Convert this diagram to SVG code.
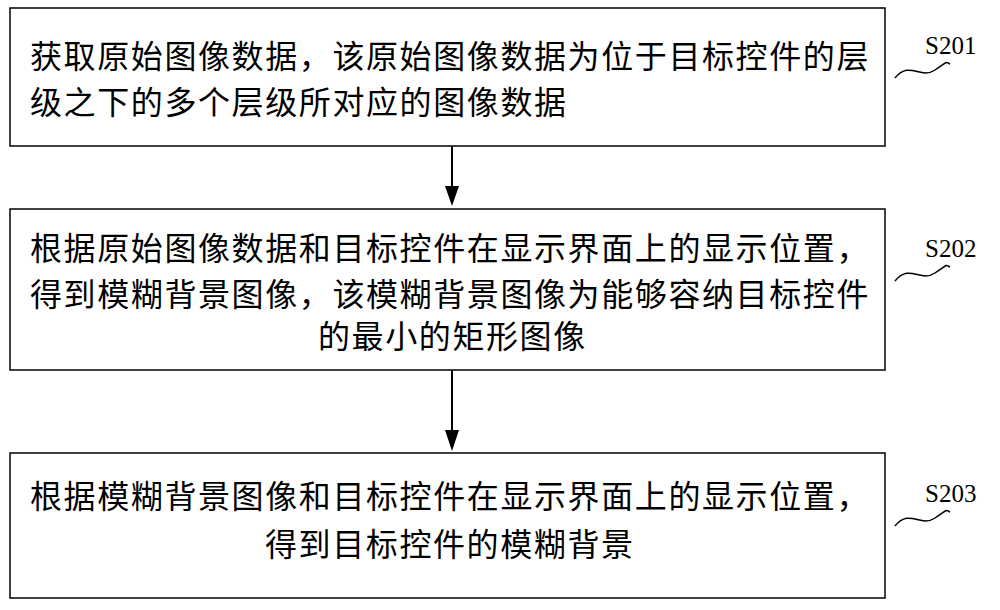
<svg xmlns="http://www.w3.org/2000/svg" width="1000" height="610" viewBox="0 0 1000 610">
<defs>
<style>
.box{fill:#fff;stroke:#000;stroke-width:1.5}
.t{font-family:"Noto Sans CJK SC",sans-serif;font-size:32px;letter-spacing:1.6px;fill:#000}
.l{font-family:"Liberation Serif",serif;font-size:25px;fill:#000}
.c{fill:none;stroke:#000;stroke-width:1.5}
</style>
</defs>
<rect width="1000" height="610" fill="#fff"/>
<g id="n1"><rect class="box" x="10" y="8" width="875" height="138"/>
<text class="t" x="30" y="68">获取原始图像数据，该原始图像数据为位于目标控件的层</text>
<text class="t" x="30" y="114">级之下的多个层级所对应的图像数据</text></g>
<g id="n2"><rect class="box" x="10" y="209" width="875" height="161"/>
<text class="t" x="30" y="260">根据原始图像数据和目标控件在显示界面上的显示位置，</text>
<text class="t" x="30" y="306">得到模糊背景图像，该模糊背景图像为能够容纳目标控件</text>
<text class="t" x="318" y="348">的最小的矩形图像</text></g>
<g id="n3"><rect class="box" x="10" y="453" width="875" height="145"/>
<text class="t" x="30" y="508">根据模糊背景图像和目标控件在显示界面上的显示位置，</text>
<text class="t" x="265" y="556">得到目标控件的模糊背景</text></g>
<g id="labels">
<text class="l" x="925" y="54">S201</text>
<text class="l" x="925" y="257">S202</text>
<text class="l" x="925" y="502">S203</text>
</g>
<g id="connectors">
<path class="c" d="M895,78 C910,60 920,80 935,70 S945,62 950,64"/>
<path class="c" d="M895,281 C910,263 920,283 935,273 S945,265 950,267"/>
<path class="c" d="M895,526 C910,508 920,528 935,518 S945,510 950,512"/>
<line x1="452" y1="146" x2="452" y2="190" stroke="#000" stroke-width="2"/>
<path d="M445,186 L452,206 L459,186 Z"/>
<line x1="452" y1="370" x2="452" y2="432" stroke="#000" stroke-width="2"/>
<path d="M445,430 L452,451 L459,430 Z"/>
</g>
</svg>
